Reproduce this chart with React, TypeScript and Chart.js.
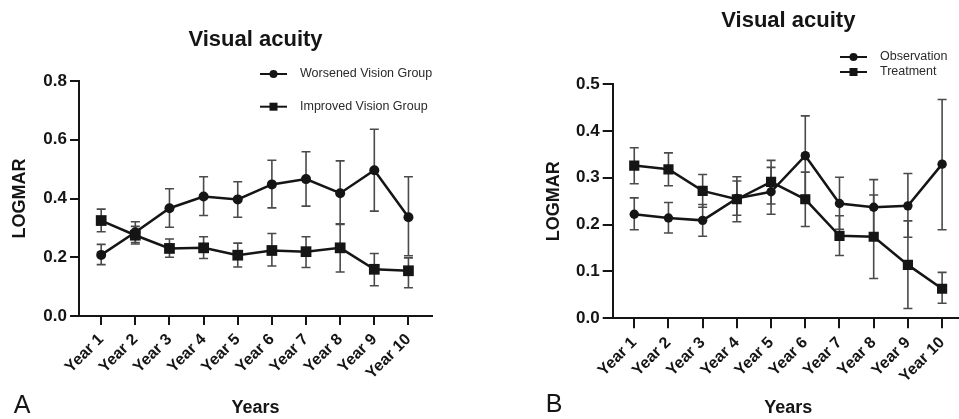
import React, { useEffect, useRef } from 'react';
import { Chart, registerables } from 'chart.js';

Chart.register(...registerables);

// ---------- data ----------
const categories = ['Year 1', 'Year 2', 'Year 3', 'Year 4', 'Year 5', 'Year 6', 'Year 7', 'Year 8', 'Year 9', 'Year 10'];

// Panel A
const worsenedMean = [0.208, 0.285, 0.367, 0.407, 0.397, 0.448, 0.466, 0.418, 0.496, 0.336];
const worsenedUpper = [0.244, 0.321, 0.433, 0.474, 0.457, 0.530, 0.559, 0.528, 0.636, 0.474];
const worsenedLower = [0.175, 0.250, 0.302, 0.342, 0.336, 0.368, 0.374, 0.312, 0.357, 0.205];

const improvedMean = [0.325, 0.275, 0.230, 0.232, 0.207, 0.223, 0.219, 0.232, 0.159, 0.154];
const improvedUpper = [0.364, 0.305, 0.262, 0.270, 0.248, 0.281, 0.270, 0.314, 0.213, 0.198];
const improvedLower = [0.287, 0.245, 0.200, 0.196, 0.167, 0.170, 0.165, 0.150, 0.103, 0.096];

// Panel B
const observationMean = [0.222, 0.214, 0.209, 0.256, 0.270, 0.347, 0.245, 0.237, 0.240, 0.329];
const observationUpper = [0.257, 0.247, 0.243, 0.302, 0.322, 0.432, 0.301, 0.296, 0.309, 0.467];
const observationLower = [0.189, 0.182, 0.175, 0.206, 0.222, 0.262, 0.190, 0.178, 0.173, 0.189];

const treatmentMean = [0.326, 0.318, 0.272, 0.254, 0.291, 0.254, 0.176, 0.174, 0.114, 0.063];
const treatmentUpper = [0.364, 0.353, 0.307, 0.293, 0.337, 0.312, 0.219, 0.263, 0.208, 0.098];
const treatmentLower = [0.287, 0.283, 0.237, 0.220, 0.244, 0.196, 0.134, 0.085, 0.021, 0.032];

const chartTitle = 'Visual acuity';
const yTitle = 'LOGMAR';
const xTitle = 'Years';

// ---------- styling ----------
const FONT = "'Liberation Sans', Arial, Helvetica, sans-serif";
const INK = '#151515';

const errorBarPlugin = {
  id: 'errorBars',
  beforeDatasetsDraw(chart: any) {
    const { ctx } = chart;
    const y = chart.scales.y;
    chart.data.datasets.forEach((ds: any, di: number) => {
      if (!ds.errUpper) return;
      const meta = chart.getDatasetMeta(di);
      ctx.save();
      ctx.strokeStyle = '#4a4a4a';
      ctx.lineWidth = 1.6;
      meta.data.forEach((pt: any, i: number) => {
        const x = pt.x;
        const yu = y.getPixelForValue(ds.errUpper[i]);
        const yl = y.getPixelForValue(ds.errLower[i]);
        const cw = 4.5;
        ctx.beginPath();
        ctx.moveTo(x, yu);
        ctx.lineTo(x, yl);
        ctx.moveTo(x - cw, yu);
        ctx.lineTo(x + cw, yu);
        ctx.moveTo(x - cw, yl);
        ctx.lineTo(x + cw, yl);
        ctx.stroke();
      });
      ctx.restore();
    });
  },
};

const decorPlugin = {
  id: 'decor',
  afterDraw(chart: any, _args: any, opts: any) {
    const { ctx } = chart;
    ctx.save();
    // panel letter
    ctx.fillStyle = INK;
    ctx.font = `400 25px ${FONT}`;
    ctx.textAlign = 'center';
    ctx.textBaseline = 'middle';
    ctx.fillText(opts.letter, opts.letterX, opts.letterY);
    // legend
    chart.data.datasets.forEach((ds: any, i: number) => {
      const y = opts.legendY + i * opts.legendDy;
      const x0 = opts.legendX;
      const w = 27;
      ctx.strokeStyle = INK;
      ctx.lineWidth = 2;
      ctx.beginPath();
      ctx.moveTo(x0, y);
      ctx.lineTo(x0 + w, y);
      ctx.stroke();
      ctx.fillStyle = INK;
      const cx = x0 + w / 2;
      if (ds.pointStyle === 'rect') {
        ctx.fillRect(cx - 4, y - 4, 8, 8);
      } else {
        ctx.beginPath();
        ctx.arc(cx, y, 4, 0, Math.PI * 2);
        ctx.fill();
      }
      ctx.fillStyle = '#2a2a2a';
      ctx.font = `400 12.5px ${FONT}`;
      ctx.textAlign = 'left';
      ctx.textBaseline = 'middle';
      ctx.fillText(ds.label, x0 + w + 13, y);
    });
    ctx.restore();
  },
};

type PanelParams = {
  series: { label: string; mean: number[]; upper: number[]; lower: number[]; style: string; radius: number }[];
  yMax: number;
  yStep: number;
  xMin: number;
  xMax: number;
  yWidth: number;
  xHeight: number;
  padRight: number;
  titlePad: { top: number; bottom: number };
  yTitlePad: number;
  tickLen: number;
  decor: any;
};

function makeConfig(p: PanelParams): any {
  return {
    type: 'line',
    data: {
      datasets: p.series.map((s) => ({
        label: s.label,
        data: s.mean.map((v, i) => ({ x: i + 1, y: v })),
        errUpper: s.upper,
        errLower: s.lower,
        borderColor: INK,
        borderWidth: 2.5,
        pointStyle: s.style,
        pointRadius: s.radius,
        pointBackgroundColor: INK,
        pointBorderColor: INK,
        pointBorderWidth: 0,
        tension: 0,
        fill: false,
      })),
    },
    options: {
      responsive: false,
      animation: false,
      devicePixelRatio: 1,
      events: [],
      layout: { padding: { left: 0, right: p.padRight, top: 0, bottom: 0 } },
      plugins: {
        legend: { display: false },
        tooltip: { enabled: false },
        title: {
          display: true,
          text: chartTitle,
          fullSize: false,
          color: INK,
          font: { family: FONT, size: 22, weight: 'bold' },
          padding: p.titlePad,
        },
        decor: p.decor,
      },
      scales: {
        x: {
          type: 'linear',
          min: p.xMin,
          max: p.xMax,
          afterBuildTicks: (scale: any) => {
            scale.ticks = categories.map((_, i) => ({ value: i + 1 }));
          },
          afterFit: (scale: any) => {
            scale.height = p.xHeight;
          },
          ticks: {
            autoSkip: false,
            minRotation: 45,
            maxRotation: 45,
            padding: 5,
            color: INK,
            font: { family: FONT, size: 16, weight: 'bold' },
            callback: (v: number) => categories[Math.round(v) - 1] ?? '',
          },
          grid: { display: true, drawOnChartArea: false, drawTicks: true, tickLength: p.tickLen, color: INK, lineWidth: 2 },
          border: { display: true, color: INK, width: 2 },
          title: {
            display: true,
            text: xTitle,
            color: INK,
            font: { family: FONT, size: 18, weight: 'bold' },
            padding: { top: 0, bottom: 0 },
          },
        },
        y: {
          type: 'linear',
          min: 0,
          max: p.yMax,
          afterFit: (scale: any) => {
            scale.width = p.yWidth;
          },
          ticks: {
            stepSize: p.yStep,
            padding: 3,
            color: INK,
            font: { family: FONT, size: 17, weight: 'bold' },
            callback: (v: number) => Number(v).toFixed(1),
          },
          grid: { display: true, drawOnChartArea: false, drawTicks: true, tickLength: p.tickLen, color: INK, lineWidth: 2 },
          border: { display: true, color: INK, width: 2 },
          title: {
            display: true,
            text: yTitle,
            color: INK,
            font: { family: FONT, size: 18, weight: 'bold' },
            padding: { top: p.yTitlePad, bottom: 0 },
          },
        },
      },
    },
    plugins: [errorBarPlugin, decorPlugin],
  };
}

const panelA: PanelParams = {
  series: [
    { label: 'Worsened Vision Group', mean: worsenedMean, upper: worsenedUpper, lower: worsenedLower, style: 'circle', radius: 5 },
    { label: 'Improved Vision Group', mean: improvedMean, upper: improvedUpper, lower: improvedLower, style: 'rect', radius: 7.6 },
  ],
  yMax: 0.8,
  yStep: 0.2,
  xMin: 0.35,
  xMax: 10.69,
  yWidth: 79,
  xHeight: 103,
  padRight: 48,
  titlePad: { top: 26.5, bottom: 28.1 },
  yTitlePad: 9.2,
  tickLen: 9,
  decor: { letter: 'A', letterX: 22, letterY: 406, legendX: 260, legendY: 74, legendDy: 32.7 },
};

const panelB: PanelParams = {
  series: [
    { label: 'Observation', mean: observationMean, upper: observationUpper, lower: observationLower, style: 'circle', radius: 4.7 },
    { label: 'Treatment', mean: treatmentMean, upper: treatmentUpper, lower: treatmentLower, style: 'rect', radius: 7.2 },
  ],
  yMax: 0.5,
  yStep: 0.1,
  xMin: 0.37,
  xMax: 10.64,
  yWidth: 132.7,
  xHeight: 100.7,
  padRight: 16,
  titlePad: { top: 8, bottom: 49.6 },
  yTitlePad: 63.2,
  tickLen: 10,
  decor: { letter: 'B', letterX: 74, letterY: 405, legendX: 360, legendY: 57, legendDy: 15 },
};

function Panel({ params, left, width }: { params: PanelParams; left: number; width: number }) {
  const ref = useRef<HTMLCanvasElement | null>(null);
  useEffect(() => {
    if (!ref.current) return;
    const chart = new Chart(ref.current, makeConfig(params));
    return () => chart.destroy();
  }, [params]);
  return (
    <canvas
      ref={ref}
      width={width}
      height={419}
      style={{ position: 'absolute', left, top: 0, width, height: 419 }}
    />
  );
}

export default function App() {
  return (
    <div
      style={{
        position: 'absolute',
        left: 0,
        top: 0,
        width: 959,
        height: 419,
        overflow: 'hidden',
        background: '#ffffff',
      }}
    >
      <Panel params={panelA} left={0} width={480} />
      <Panel params={panelB} left={480} width={500} />
    </div>
  );
}
